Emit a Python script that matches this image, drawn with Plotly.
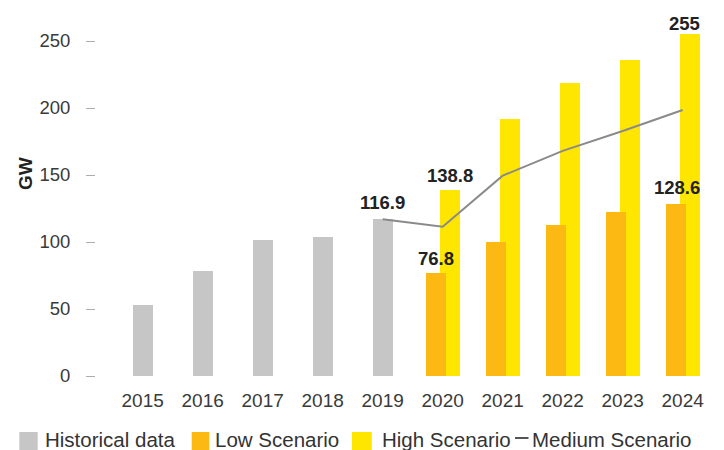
import plotly.graph_objects as go

# ---- data -------------------------------------------------------------
years = [2015, 2016, 2017, 2018, 2019, 2020, 2021, 2022, 2023, 2024]

hist_years = [2015, 2016, 2017, 2018, 2019]
hist_values = [53, 78, 101.5, 104, 116.9]

scen_years = [2020, 2021, 2022, 2023, 2024]
low_values = [76.8, 100, 112.4, 122.6, 128.6]
high_values = [138.8, 191.8, 218.9, 235.6, 255]

medium_years = [2019, 2020, 2021, 2022, 2023, 2024]
medium_values = [116.9, 111.4, 149.5, 168, 182.8, 198.5]

y_ticks = [0, 50, 100, 150, 200, 250]

legend_labels = ["Historical data", "Low Scenario", "High Scenario", "Medium Scenario"]

# ---- style ------------------------------------------------------------
GRAY = "#c6c6c6"
ORANGE = "#fdb913"
YELLOW = "#ffe600"
LINE = "#8a8a8a"
TEXT = "#3a3a3a"
DARK = "#222222"
FONT = "Liberation Sans, Arial, sans-serif"

W, H = 724, 450
ML, MR, MT, MB = 96, 8, 10, 74
PW, PH = W - ML - MR, H - MT - MB


def px_x(px):
    return (px - ML) / PW


def px_y(py):
    return (H - MB - py) / PH


BAR_W = 1 / 3

fig = go.Figure()

fig.add_trace(go.Bar(
    x=hist_years, y=hist_values, width=BAR_W, offset=-BAR_W / 2,
    marker=dict(color=GRAY, line=dict(width=0)), showlegend=False,
    name=legend_labels[0],
))
fig.add_trace(go.Bar(
    x=scen_years, y=high_values, width=BAR_W, offset=-0.05,
    marker=dict(color=YELLOW, line=dict(width=0)), showlegend=False,
    name=legend_labels[2],
))
fig.add_trace(go.Bar(
    x=scen_years, y=low_values, width=BAR_W, offset=-0.272,
    marker=dict(color=ORANGE, line=dict(width=0)), showlegend=False,
    name=legend_labels[1],
))
fig.add_trace(go.Scatter(
    x=medium_years, y=medium_values, mode="lines",
    line=dict(color=LINE, width=2), showlegend=False,
    name=legend_labels[3],
))

# ---- value labels ---------------------------------------------------
# (x position, value, horizontal nudge in years, vertical shift in px)
label_specs = [
    (hist_years[-1], hist_values[-1], 0, 4),
    (scen_years[0], low_values[0], -0.11, 2),
    (scen_years[0], high_values[0], 0.117, 2),
    (scen_years[-1], low_values[-1], -0.1, 4),
    (scen_years[-1], high_values[-1], 0.03, -2),
]
for x, v, dx, ys in label_specs:
    fig.add_annotation(
        x=x + dx, y=v, xref="x", yref="y",
        text=f"{v:g}", showarrow=False,
        xanchor="center", yanchor="bottom", yshift=ys,
        font=dict(family=FONT, size=18.5, color=DARK, weight="bold"),
    )

# axis title
fig.add_annotation(
    x=px_x(25), y=px_y(174), xref="paper", yref="paper",
    text="GW", textangle=-90, showarrow=False,
    xanchor="center", yanchor="middle",
    font=dict(family=FONT, size=19, color=DARK, weight="bold"),
)

# ---- legend drawn along the bottom edge ------------------------------
legend_items = [
    ("box", GRAY, 19.3, 37.7, 42.7),
    ("box", ORANGE, 191.7, 209.3, 213),
    ("box", YELLOW, 352, 371.7, 380),
    ("line", "#555555", 515, 528.5, 530),
]
for (kind, color, x0, x1, tx), label in zip(legend_items, legend_labels):
    if kind == "box":
        fig.add_shape(
            type="rect", xref="paper", yref="paper",
            x0=px_x(x0), x1=px_x(x1), y0=px_y(451), y1=px_y(432),
            fillcolor=color, line=dict(width=0), layer="above",
        )
    else:
        fig.add_shape(
            type="line", xref="paper", yref="paper",
            x0=px_x(x0), x1=px_x(x1), y0=px_y(438), y1=px_y(438),
            line=dict(color=color, width=2), layer="above",
        )
    fig.add_annotation(
        x=px_x(tx), y=px_y(439), xref="paper", yref="paper",
        text=label, showarrow=False, xanchor="left", yanchor="middle",
        font=dict(family=FONT, size=20.5, color="#333333"),
    )

fig.update_layout(
    width=W, height=H,
    margin=dict(l=ML, r=MR, t=MT, b=MB, pad=0),
    paper_bgcolor="white", plot_bgcolor="white",
    barmode="overlay", bargap=0,
    showlegend=False,
    font=dict(family=FONT, color=TEXT),
)
fig.update_xaxes(
    range=[2014.222, 2014.222 + PW / 60],
    tickvals=years, ticktext=[str(y) for y in years],
    showgrid=False, zeroline=False, showline=False,
    ticks="", ticklabelstandoff=11,
    tickfont=dict(family=FONT, size=19, color=TEXT),
)
fig.update_yaxes(
    range=[0, PH / 1.34],
    tickvals=y_ticks,
    showgrid=False, zeroline=False, showline=False,
    ticks="outside", ticklen=9, tickwidth=1.3, tickcolor="#adadad",
    ticklabelstandoff=12,
    tickfont=dict(family=FONT, size=18.5, color=TEXT),
)

fig.write_html("out.html")
